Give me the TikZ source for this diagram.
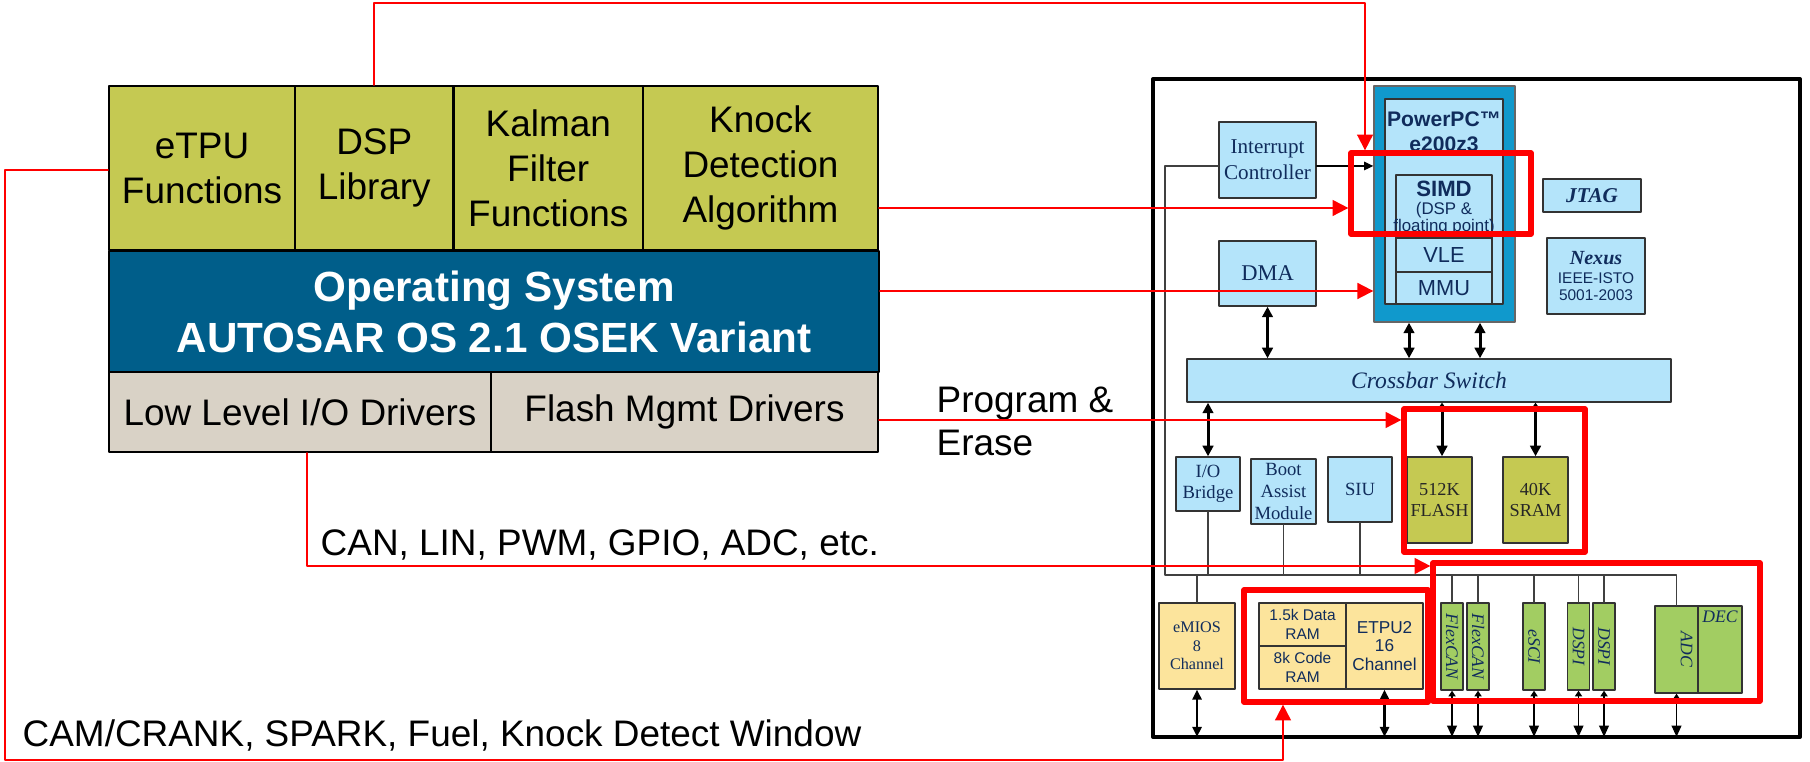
\documentclass[tikz,border=0pt]{standalone}
\usepackage{fontspec}
\usepackage{graphicx}
\setmainfont{Liberation Sans}
\newfontfamily\chipserif{Liberation Serif}
\usetikzlibrary{fit,calc,arrows.meta}

\definecolor{stackgreen}{RGB}{197,201,82}
\definecolor{osblue}{RGB}{0,94,138}
\definecolor{drvgrey}{RGB}{217,210,198}
\definecolor{chipblue}{RGB}{180,228,250}
\definecolor{coreblue}{RGB}{16,153,204}
\definecolor{ramyellow}{RGB}{252,228,156}
\definecolor{perigreen}{RGB}{162,205,98}
\definecolor{chipnavy}{RGB}{16,44,92}
\definecolor{hlred}{RGB}{255,0,0}

\newcommand{\serifsize}[2]{\chipserif\fontsize{#1}{#2}\selectfont}
\newcommand{\sanssize}[2]{\fontsize{#1}{#2}\selectfont}

\tikzset{
  boxsize/.style 2 args={minimum width=#1*0.01cm, minimum height=#2*0.01cm},
  stackbox/.style={draw, line width=0.6pt, inner sep=0pt, align=center,
                   font={\sanssize{10.5}{12.8}}},
  chipbox/.style={draw=black!80, line width=0.4pt, fill=chipblue, inner sep=0pt,
                  align=center, text=chipnavy},
  pinbox/.style={chipbox, fill=perigreen, boxsize={22}{87},
                 font={\serifsize{5}{6}\itshape}},
  hlbox/.style={draw=hlred, line width=1.5pt, inner sep=0pt},
  redarrow/.style={draw=hlred, line width=0.55pt,
                   -{Triangle[length=4.5pt,width=4.5pt]}},
  busline/.style={draw=black!75, line width=0.35pt},
  busarrow/.style={line width=0.85pt,
                   {Triangle[length=3pt,width=3pt]}-{Triangle[length=3pt,width=3pt]}},
  memarrow/.style={line width=0.85pt,
                   {Triangle[length=1.5pt,width=2pt]}-{Triangle[length=3pt,width=3pt]}},
  padarrow/.style={line width=0.6pt, shorten >=0.6pt,
                   {Triangle[length=2.8pt,width=2.6pt]}-{Triangle[length=2.8pt,width=2.6pt]}},
  pinarrow/.style={line width=0.4pt, shorten >=0.6pt,
                   {Triangle[length=1.6pt,width=2pt]}-{Triangle[length=3.2pt,width=2.8pt]}},
}

\begin{document}
\begin{tikzpicture}[x=0.01cm, y=-0.01cm, line cap=round, line join=round]
  \useasboundingbox (0,0) rectangle (1810,762);
  \fill[white] (0,0) rectangle (1810,762);

  % Software stack
  \node[stackbox, fill=stackgreen, boxsize={186}{164}] (etpu) at (202,168) {eTPU\\Functions};
  \node[stackbox, fill=stackgreen, boxsize={158.5}{164}] (dsp) at (374.25,168) {DSP\\Library};
  \node[stackbox, fill=stackgreen, boxsize={189.5}{164}] (kalman) at (548.25,168) {Kalman\\Filter\\Functions};
  \node[stackbox, fill=stackgreen, boxsize={235}{164}] (knock) at (760.5,168) {Knock\\Detection\\Algorithm};
  \node[stackbox, fill=osblue, text=white, font={\sanssize{12}{14.5}\bfseries},
        boxsize={770}{121}] (os) at (494,311.5) {Operating System\\AUTOSAR OS 2.1 OSEK Variant};
  \node[stackbox, fill=drvgrey, boxsize={382}{80}] (lowio) at (300,412) {Low Level I/O Drivers};
  \node[stackbox, fill=drvgrey, boxsize={387}{80}] (flashdrv) at (684.5,412) {Flash Mgmt Drivers};

  % Link labels
  \node[anchor=north west, inner sep=0pt, align=left, font={\sanssize{10.5}{12.3}}]
    (progerase) at (936,386) {Program \&\\Erase};
  \node[anchor=base west, inner sep=0pt, font={\sanssize{10.5}{12.8}}]
    (canlbl) at (320,556) {CAN, LIN, PWM, GPIO, ADC, etc.};
  \node[anchor=base west, inner sep=0pt, font={\sanssize{10.5}{12.8}}]
    (camlbl) at (22,747) {CAM/CRANK, SPARK, Fuel, Knock Detect Window};

  % Chip outline
  \node[draw, line width=1.1pt, inner sep=0pt, fit={(1153,79) (1800,737)}] (chip) {};

  % Core and masters
  \node[chipbox, font={\serifsize{6}{7.4}}, boxsize={97}{76}] (intc) at (1267.5,160) {Interrupt\\Controller};
  \node[chipbox, font={\serifsize{6.4}{7.4}}, boxsize={97}{65}] (dma) at (1267.5,273.5) {DMA};
  \node[chipbox, fill=coreblue, draw=black!60, fit={(1374,86) (1515,322)}] (ppc) {};
  \node[chipbox, fit={(1385,99) (1503,304)}] (ppcin) {};
  \node[anchor=north, inner sep=0pt, align=center, text=chipnavy,
        font={\sanssize{6}{7.1}\bfseries}] (ppctxt) at (1444,111) {PowerPC™\\e200z3};
  \node[chipbox, fit={(1396,175) (1492,238)}] (simd) {};
  \node[anchor=north, inner sep=0pt, align=center, text=chipnavy,
        font={\sanssize{4.8}{5.3}}] (simdtxt) at (1444,180)
        {{\sanssize{6.3}{7}\bfseries SIMD}\\(DSP \&\\[-0.6pt]floating point)};
  \node[chipbox, font={\sanssize{6.2}{7}}, boxsize={96}{34}] (vle) at (1444,255) {VLE};
  \node[chipbox, font={\sanssize{6.2}{7}}, boxsize={96}{32}] (mmu) at (1444,288) {MMU};
  \node[chipbox, font={\serifsize{6}{7}\bfseries\itshape}, boxsize={98}{33}] (jtag) at (1592,195.5) {JTAG};
  \node[chipbox, font={\sanssize{4.4}{5.1}}, boxsize={98}{76}] (nexus) at (1596,276)
        {{\serifsize{5.7}{6}\bfseries\itshape Nexus}\\[0.3pt]IEEE-ISTO\\5001-2003};

  % Crossbar and slaves
  \node[chipbox, font={\serifsize{6.7}{7.5}\itshape}, boxsize={484}{43}] (xbar) at (1429,380.5) {Crossbar Switch};
  \node[chipbox, font={\serifsize{5.3}{6}}, boxsize={64}{54}] (iob) at (1208,484) {I/O\\Bridge};
  \node[chipbox, font={\serifsize{5.3}{6.2}}, boxsize={65}{65}] (boot) at (1283.5,491.5) {Boot\\Assist\\Module};
  \node[chipbox, font={\serifsize{5.3}{6}}, boxsize={64}{65}] (siu) at (1360,489.5) {SIU};
  \node[chipbox, fill=stackgreen, text=black!85, font={\serifsize{5.2}{5.8}},
        boxsize={65}{86}] (flash) at (1439.5,500) {512K\\FLASH};
  \node[chipbox, fill=stackgreen, text=black!85, font={\serifsize{5.2}{5.8}},
        boxsize={65}{86}] (sram) at (1535.5,500) {40K\\SRAM};

  % Peripherals
  \node[chipbox, fill=ramyellow, font={\serifsize{4.6}{5.3}}, boxsize={76}{86}] (emios) at (1197,646) {eMIOS\\8\\Channel};
  \node[chipbox, fill=ramyellow, font={\sanssize{4.4}{5.4}}, boxsize={87}{43}] (dram) at (1302.5,624.5) {1.5k Data\\RAM};
  \node[chipbox, fill=ramyellow, font={\sanssize{4.4}{5.4}}, boxsize={87}{43}] (cram) at (1302.5,667.5) {8k Code\\RAM};
  \node[chipbox, fill=ramyellow, font={\sanssize{4.9}{5.3}}, boxsize={77}{86}] (etpuch) at (1384.5,646) {ETPU2\\16\\Channel};
  \node[pinbox] (flexcana) at (1452,646.5) {\rotatebox{-90}{FlexCAN}};
  \node[pinbox] (flexcanb) at (1478,646.5) {\rotatebox{-90}{FlexCAN}};
  \node[pinbox] (esci) at (1534,646.5) {\rotatebox{-90}{eSCI}};
  \node[pinbox] (dspia) at (1578.5,646.5) {\rotatebox{-90}{DSPI}};
  \node[pinbox] (dspib) at (1604,646.5) {\rotatebox{-90}{DSPI}};
  \node[pinbox, boxsize={43}{87}] (adc) at (1676.5,649.5) {\hspace*{0.2cm}\rotatebox{-90}{ADC}};
  \node[pinbox, boxsize={44}{87},
        label={[anchor=north, inner sep=0pt, yshift=-0.05cm, text=chipnavy,
                font={\serifsize{5}{6}\itshape}]north:DEC}] (dec) at (1720,649.5) {};

  % Internal bus
  \coordinate (bus) at (1165,575);
  \draw[busline] (intc.west |- 0,166) -| (bus) -| (adc.north);
  \foreach \n in {iob, boot, siu}
    \draw[busline] (\n.south) -- (\n.south |- bus);
  \foreach \n in {emios, flexcana, flexcanb, esci, dspia, dspib}
    \draw[busline] (\n.north) -- (\n.north |- bus);
  \draw[busline, draw=black, -{Triangle[length=2.6pt,width=2.4pt]}]
    (intc.east |- 0,166) -- (ppc.west |- 0,166);

  % Crossbar ports
  \draw[busarrow] (dma.south) -- (dma.south |- xbar.north);
  \draw[busarrow] (ppc.south -| 1409,0) -- (xbar.north -| 1409,0);
  \draw[busarrow] (ppc.south -| 1480,0) -- (xbar.north -| 1480,0);
  \draw[busarrow] (xbar.south -| iob.north) -- (iob.north);
  \draw[memarrow] (xbar.south -| 1442,0) -- (flash.north -| 1442,0);
  \draw[memarrow] (xbar.south -| sram.north) -- (sram.north);

  % Pins
  \foreach \n in {emios, etpuch}
    \draw[padarrow] (\n.south) -- (\n.south |- chip.south);
  \foreach \n in {flexcana, flexcanb, esci, dspia, dspib, adc}
    \draw[pinarrow] (\n.south) -- (\n.south |- chip.south);

  % Highlights
  \node[hlbox, fit={(1351,153) (1531,234)}] (hlsimd) {};
  \node[hlbox, fit={(1404,409) (1585,552)}] (hlmem) {};
  \node[hlbox, fit={(1244,590) (1428,702)}] (hletpu) {};
  \node[hlbox, fit={(1433,563) (1760,701)}] (hlperiph) {};

  % Mapping arrows
  \coordinate (dsptop) at (1365,3);
  \coordinate (camcorner) at (5,760);
  \draw[redarrow] (dsp.north) |- (dsptop) -- (dsptop |- hlsimd.north);
  \draw[redarrow] (knock.east |- 0,208) -- (hlsimd.west |- 0,208);
  \draw[redarrow] (os.east |- 0,291) -- (ppc.west |- 0,291);
  \draw[redarrow] (flashdrv.east |- 0,420) -- (hlmem.west |- 0,420);
  \draw[redarrow] (lowio.south -| 307,0) |- (hlperiph.west |- 0,566);
  \draw[redarrow] (etpu.west |- 0,170) -| (camcorner) -| (hletpu.south -| 1283,0);
\end{tikzpicture}
\end{document}
